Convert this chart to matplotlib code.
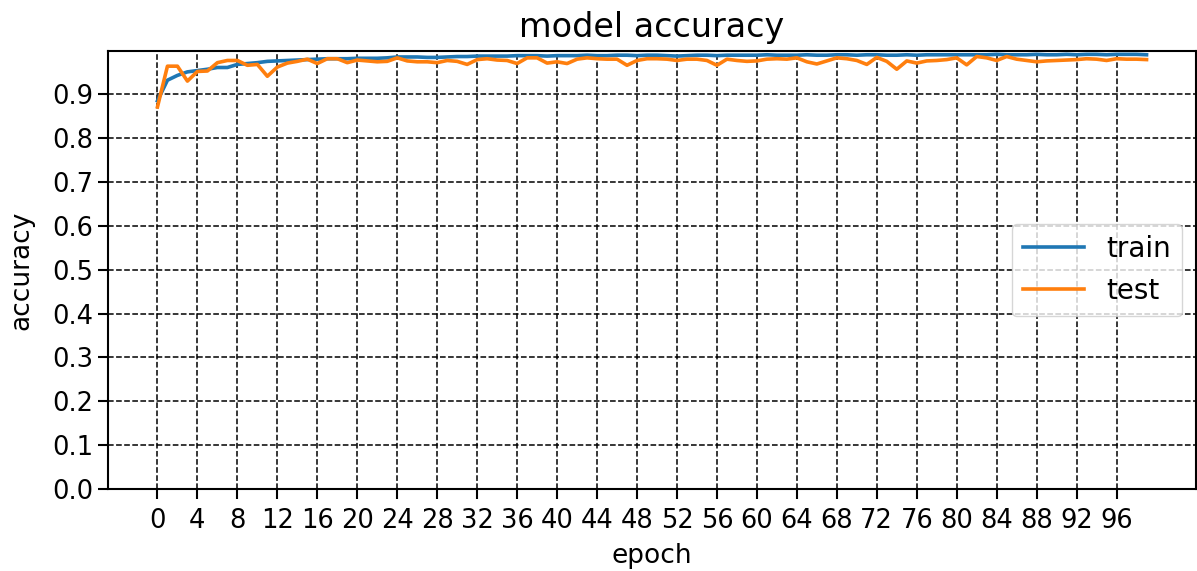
import matplotlib
matplotlib.use("Agg")
import matplotlib.pyplot as plt
import numpy as np

epochs = list(range(100))

train_acc = [0.885, 0.932, 0.943, 0.951, 0.954, 0.957, 0.961, 0.961, 0.968, 0.970,
             0.972, 0.975, 0.976, 0.977, 0.978, 0.979, 0.980, 0.981, 0.981, 0.981,
             0.982, 0.982, 0.982, 0.983, 0.985, 0.985, 0.985, 0.984, 0.984, 0.985,
             0.986, 0.986, 0.987, 0.987, 0.987, 0.987, 0.988, 0.988, 0.988, 0.987,
             0.988, 0.988, 0.988, 0.989, 0.988, 0.988, 0.989, 0.989, 0.988, 0.989,
             0.989, 0.988, 0.987, 0.988, 0.989, 0.989, 0.988, 0.989, 0.989, 0.989,
             0.989, 0.990, 0.989, 0.989, 0.989, 0.990, 0.989, 0.989, 0.990, 0.990,
             0.989, 0.990, 0.990, 0.989, 0.989, 0.990, 0.989, 0.990, 0.990, 0.990,
             0.990, 0.990, 0.990, 0.990, 0.991, 0.990, 0.990, 0.990, 0.991, 0.990,
             0.990, 0.991, 0.990, 0.991, 0.991, 0.990, 0.991, 0.991, 0.991, 0.990]

test_acc = [0.871, 0.964, 0.964, 0.930, 0.952, 0.953, 0.972, 0.977, 0.977, 0.966,
            0.968, 0.941, 0.962, 0.971, 0.975, 0.980, 0.970, 0.981, 0.981, 0.972,
            0.978, 0.976, 0.974, 0.975, 0.983, 0.976, 0.974, 0.974, 0.972, 0.977,
            0.975, 0.968, 0.979, 0.981, 0.978, 0.977, 0.970, 0.983, 0.983, 0.971,
            0.974, 0.970, 0.980, 0.983, 0.981, 0.980, 0.980, 0.966, 0.977, 0.981,
            0.981, 0.980, 0.977, 0.980, 0.980, 0.977, 0.966, 0.980, 0.977, 0.975,
            0.976, 0.980, 0.981, 0.980, 0.983, 0.974, 0.969, 0.976, 0.983, 0.981,
            0.977, 0.968, 0.984, 0.975, 0.957, 0.976, 0.971, 0.976, 0.977, 0.979,
            0.983, 0.967, 0.986, 0.983, 0.977, 0.986, 0.980, 0.977, 0.974, 0.976,
            0.977, 0.978, 0.979, 0.981, 0.980, 0.977, 0.981, 0.980, 0.980, 0.979]

series_labels = ["train", "test"]
xtick_values = list(range(0, 100, 4))

fig = plt.figure(figsize=(11.97, 5.71), dpi=100)
ax = fig.add_axes([108/1197, 1 - 489/571, (1196 - 108)/1197, (489 - 51)/571])

ax.plot(epochs, train_acc, color="#1f77b4", linewidth=2.6, label=series_labels[0])
ax.plot(epochs, test_acc, color="#ff7f0e", linewidth=2.6, label=series_labels[1])

ax.set_ylim(0, 0.9986)
ax.set_xlim(-4.95, 103.95)
ax.set_xticks(xtick_values)
ax.set_yticks(np.round(np.arange(0, 1.0, 0.1), 1))
ax.tick_params(labelsize=18.5, length=7, width=1.5)
ax.tick_params(axis="x", pad=6.5)
for s in ax.spines.values():
    s.set_linewidth(1.5)
ax.grid(True, color="black", linestyle="--", linewidth=1.1)

ax.set_title("model accuracy", fontsize=24, pad=10)
ax.set_xlabel("epoch", fontsize=19, labelpad=7)
ax.set_ylabel("accuracy", fontsize=19, labelpad=13)
ax.legend(loc="center right", fontsize=20, handlelength=2.2)

fig.savefig("out.png", dpi=100)
